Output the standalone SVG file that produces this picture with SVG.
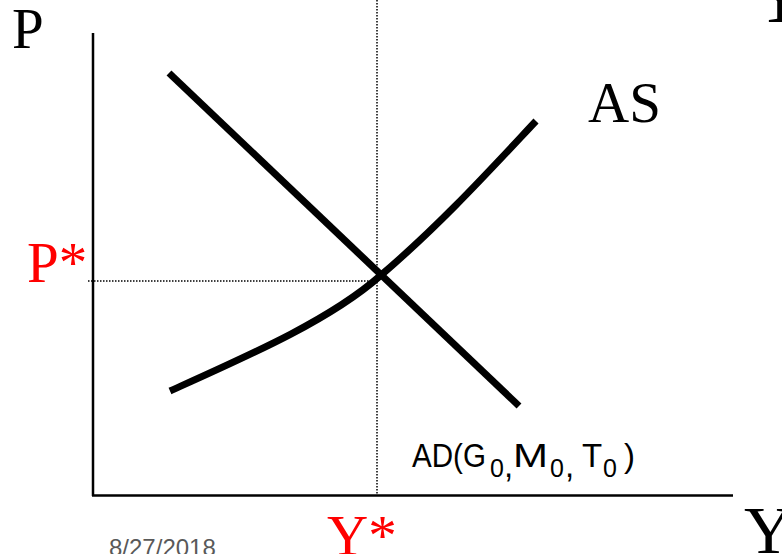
<svg xmlns="http://www.w3.org/2000/svg" width="782" height="554" viewBox="0 0 782 554">
<style>
.serif{font-family:"Liberation Serif","Times New Roman",serif;}
.lbl{font-size:57px;fill:#000;}
.red{fill:#FF0000;}
.curve{fill:none;stroke:#000;stroke-width:7;stroke-linecap:butt;}
.axis{stroke:#000;stroke-width:2.5;fill:none;}
.dot{stroke:#000;stroke-width:1.5;stroke-dasharray:1.5 1.5;fill:none;}
.ad{font-family:"Liberation Sans",Arial,sans-serif;font-size:33px;fill:#000;}
.sub{font-size:25px;}
.date{font-family:"Liberation Sans",Arial,sans-serif;font-size:24px;fill:#595959;}
</style>
<rect width="782" height="554" fill="#fff"/>
<g id="axes">
<line class="axis" x1="93" y1="33" x2="93" y2="496"/>
<line class="axis" x1="92" y1="495.5" x2="733" y2="495.5"/>
</g>
<g id="guides">
<line class="dot" x1="377" y1="0" x2="377" y2="494"/>
<line class="dot" x1="88" y1="281" x2="378" y2="281"/>
</g>
<g id="connectors">
<path id="AD-curve" class="curve" d="M169,73 L519,406"/>
<path id="AS-curve" class="curve" d="M170,391 C250,355 330,320 380,276 C440,225 490,170 536,121"/>
</g>
<g id="label-P"><text class="serif lbl" x="12" y="48">P</text></g>
<g id="label-Pstar"><text class="serif lbl red" x="27" y="282">P*</text></g>
<g id="label-AS"><text class="serif lbl" x="588" y="122">AS</text></g>
<g id="label-AD" class="ad">
<text x="412" y="467" textLength="74" lengthAdjust="spacingAndGlyphs">AD(G</text>
<text class="sub" x="490" y="477">0</text>
<text x="504" y="477">,</text>
<text x="513" y="467" textLength="35" lengthAdjust="spacingAndGlyphs">M</text>
<text class="sub" x="550" y="477">0</text>
<text x="565" y="477">,</text>
<text x="582" y="467">T</text>
<text class="sub" x="603" y="477">0</text>
<text x="624" y="467">)</text>
</g>
<g id="label-Ystar"><text class="serif lbl red" x="327" y="555">Y*</text></g>
<g id="label-Y"><text class="serif" x="744" y="553" font-size="68">Y</text></g>
<g id="label-Ytop"><text class="serif" x="752" y="22" font-size="80">Y</text></g>
<g id="date"><text class="date" x="109" y="556">8/27/2018</text></g>
</svg>
